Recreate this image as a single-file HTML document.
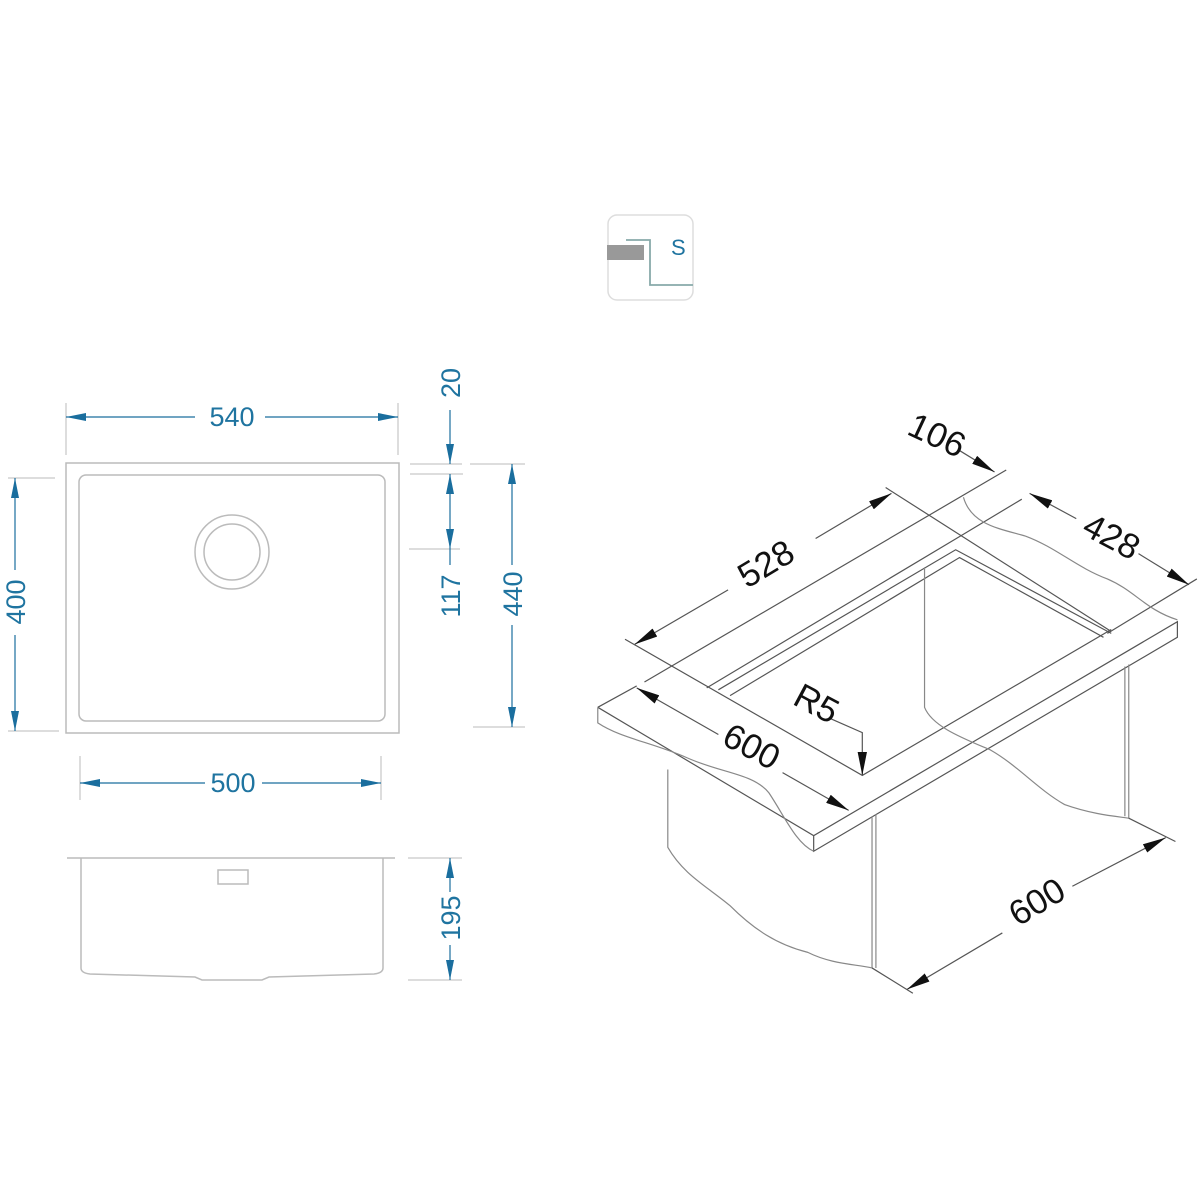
<!DOCTYPE html>
<html><head><meta charset="utf-8"><style>
html,body{margin:0;padding:0;background:#fff}
svg{display:block}
.b{font-family:"Liberation Sans","DejaVu Sans",sans-serif;fill:#1f74a0}
.k{font-family:"Liberation Sans","DejaVu Sans",sans-serif;fill:#111}
</style></head><body>
<svg width="1200" height="1200" viewBox="0 0 1200 1200" xmlns="http://www.w3.org/2000/svg">
<defs>
<marker id="ba" viewBox="0 0 20 8" refX="20" refY="4" markerWidth="20" markerHeight="8" markerUnits="userSpaceOnUse" orient="auto-start-reverse"><path d="M0,0 L20,4 L0,8 z" fill="#1a6e9e"/></marker>
<marker id="ka" viewBox="0 0 20 8" refX="20" refY="4" markerWidth="60" markerHeight="24" markerUnits="userSpaceOnUse" orient="auto-start-reverse"><path d="M0,0 L20,4 L0,8 z" fill="#111"/></marker>
</defs>

<!-- icon -->
<rect x="608" y="215" width="85" height="85" rx="9" fill="#fff" stroke="#ddd" stroke-width="1.5"/>
<path d="M626,240 H650 V285 H693" fill="none" stroke="#8aa" stroke-width="1.8"/>
<rect x="607" y="245" width="37" height="15" fill="#999"/>
<text x="671" y="255" class="b" font-size="22">S</text>

<!-- top view -->
<g fill="none" stroke="#bbb" stroke-width="1.5">
<rect x="66" y="463" width="333" height="270"/>
<rect x="79" y="475" width="306" height="246" rx="7"/>
<circle cx="232" cy="552" r="37"/>
<circle cx="232" cy="552" r="28"/>
</g>
<g stroke="#bbb" stroke-width="1">
<line x1="66" y1="403" x2="66" y2="455"/><line x1="398" y1="403" x2="398" y2="455"/>
<line x1="8" y1="478" x2="55" y2="478"/><line x1="8" y1="731" x2="59" y2="731"/>
<line x1="410" y1="464" x2="462" y2="464"/><line x1="410" y1="474" x2="463" y2="474"/>
<line x1="470" y1="464" x2="525" y2="464"/><line x1="473" y1="727" x2="525" y2="727"/>
<line x1="409" y1="549" x2="460" y2="549"/>
<line x1="80" y1="756" x2="80" y2="800"/><line x1="381" y1="756" x2="381" y2="800"/>
<line x1="408" y1="858" x2="462" y2="858"/><line x1="408" y1="980" x2="462" y2="980"/>
</g>
<g stroke="#1a6e9e" stroke-width="1.2" fill="none">
<line x1="66" y1="417" x2="195" y2="417" marker-start="url(#ba)"/>
<line x1="265" y1="417" x2="398" y2="417" marker-end="url(#ba)"/>
<line x1="15" y1="478" x2="15" y2="570" marker-start="url(#ba)"/>
<line x1="15" y1="635" x2="15" y2="731" marker-end="url(#ba)"/>
<line x1="450" y1="410" x2="450" y2="464" marker-end="url(#ba)"/>
<line x1="450" y1="474" x2="450" y2="549" marker-start="url(#ba)" marker-end="url(#ba)"/>
<line x1="450" y1="549" x2="450" y2="565"/>
<line x1="512" y1="464" x2="512" y2="565" marker-start="url(#ba)"/>
<line x1="512" y1="625" x2="512" y2="727" marker-end="url(#ba)"/>
<line x1="80" y1="783" x2="205" y2="783" marker-start="url(#ba)"/>
<line x1="262" y1="783" x2="381" y2="783" marker-end="url(#ba)"/>
<line x1="450" y1="858" x2="450" y2="892" marker-start="url(#ba)"/>
<line x1="450" y1="945" x2="450" y2="980" marker-end="url(#ba)"/>
</g>
<g class="b" font-size="27" text-anchor="middle">
<text x="232" y="426">540</text>
<text transform="translate(25,602) rotate(-90)">400</text>
<text transform="translate(460,383) rotate(-90)">20</text>
<text transform="translate(460,596) rotate(-90)">117</text>
<text transform="translate(522,594) rotate(-90)">440</text>
<text x="233" y="792">500</text>
<text transform="translate(460,918) rotate(-90)">195</text>
</g>

<!-- side view -->
<g fill="none" stroke="#bbb" stroke-width="1.5">
<line x1="67" y1="858" x2="395" y2="858"/>
<path d="M81,858 V968 Q81,973 90,974 L195,977 L202,980 H262 L269,977 L374,974 Q383,973 383,968 V858"/>
<rect x="218" y="870" width="30" height="14"/>
</g>

<!-- isometric -->
<g transform="translate(590,400) scale(0.389)" fill="none" stroke="#555" stroke-width="1.2">
<path vector-effect="non-scaling-stroke" d="M20,790 L120,735 M20,790 L575,1120 L1510,570 L1510,610 L575,1160 L575,1120"/>
<path vector-effect="non-scaling-stroke" stroke="#888" d="M20,790 L20,830 C80,870 160,880 250,920 C340,960 420,960 460,1010 C500,1070 530,1140 575,1160"/>
<path vector-effect="non-scaling-stroke" d="M90,615 L700,965 L1340,590"/>
<path vector-effect="non-scaling-stroke" d="M140,725 L1070,180"/>
<path vector-effect="non-scaling-stroke" d="M300,740 L960,345 L1110,255"/>
<path vector-effect="non-scaling-stroke" d="M330,745 L940,385 L1340,600"/>
<path vector-effect="non-scaling-stroke" d="M360,760 L950,405 L1320,610"/>
<path vector-effect="non-scaling-stroke" d="M760,225 L1340,595"/>
<path vector-effect="non-scaling-stroke" d="M1330,600 L1560,460"/>
<path vector-effect="non-scaling-stroke" stroke="#888" d="M960,250 C980,320 1050,330 1120,350 C1200,380 1250,430 1330,460 C1400,490 1430,540 1510,565"/>
<path vector-effect="non-scaling-stroke" stroke="#888" d="M860,430 V790 C880,840 960,870 1030,900 C1100,940 1150,1000 1220,1040 C1290,1065 1350,1070 1385,1075 V680"/>
<path vector-effect="non-scaling-stroke" stroke="#888" d="M1375,685 V1070"/>
<path vector-effect="non-scaling-stroke" stroke="#888" d="M200,950 V1150 C240,1220 300,1250 360,1300 C420,1360 480,1400 560,1420 C620,1450 680,1450 725,1460 V1070 M735,1065 V1460"/>
<path vector-effect="non-scaling-stroke" d="M725,1460 L830,1525 M1385,1075 L1505,1135"/>
<path vector-effect="non-scaling-stroke" d="M115,628 L355,488" marker-start="url(#ka)"/>
<path vector-effect="non-scaling-stroke" d="M580,356 L775,240" marker-end="url(#ka)"/>
<path vector-effect="non-scaling-stroke" d="M950,130 L1040,185" marker-end="url(#ka)"/>
<path vector-effect="non-scaling-stroke" d="M1130,240 L1250,305" marker-start="url(#ka)"/>
<path vector-effect="non-scaling-stroke" d="M1410,395 L1540,475" marker-end="url(#ka)"/>
<path vector-effect="non-scaling-stroke" d="M120,740 L330,860" marker-start="url(#ka)"/>
<path vector-effect="non-scaling-stroke" d="M495,958 L665,1055" marker-end="url(#ka)"/>
<path vector-effect="non-scaling-stroke" d="M620,820 L700,855 L700,965" marker-end="url(#ka)"/>
<path vector-effect="non-scaling-stroke" d="M815,1515 L1060,1370" marker-start="url(#ka)"/>
<path vector-effect="non-scaling-stroke" d="M1240,1250 L1480,1125" marker-end="url(#ka)"/>
</g>
<g class="k" font-size="35" text-anchor="middle">
<text transform="translate(772,574) rotate(-31)">528</text>
<text transform="translate(932,446) rotate(25)">106</text>
<text transform="translate(1106,547) rotate(28)">428</text>
<text transform="translate(746,757) rotate(28)">600</text>
<text transform="translate(811,714) rotate(28)">R5</text>
<text transform="translate(1043,912) rotate(-31)">600</text>
</g>
</svg>
</body></html>
